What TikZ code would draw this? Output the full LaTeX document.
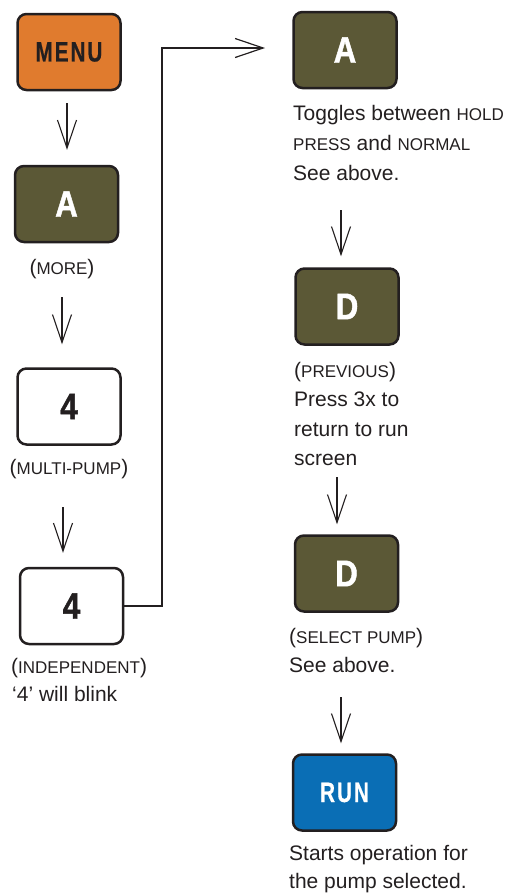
\documentclass[tikz,border=0pt]{standalone}
\usepackage{fontspec}
\setmainfont{Liberation Sans}
\newfontfamily\btnfont[FakeStretch=0.74,FakeBold=0.4,LetterSpace=7]{Liberation Sans Bold}
\newfontfamily\bigbtnfont[FakeStretch=0.85,FakeBold=1.2]{Liberation Sans Bold}
\usetikzlibrary{arrows.meta,calc}
\definecolor{ink}{HTML}{231F20}
\definecolor{keyorange}{HTML}{E07B2E}
\definecolor{keyolive}{HTML}{5B5836}
\definecolor{keyblue}{HTML}{0A6EB5}
\newcommand\smc[1]{{\fontsize{17pt}{17pt}\selectfont #1}}
\begin{document}
\begin{tikzpicture}[x=1pt,y=-1pt,
  key/.style={draw=ink,line width=2.5pt,rounded corners=9pt,minimum width=103pt,minimum height=76pt,inner sep=0pt},
  bigkey/.style={key,font=\bigbtnfont\fontsize{37pt}{37pt}\selectfont},
  smallkey/.style={key,font=\btnfont\fontsize{28pt}{28pt}\selectfont},
  olivekey/.style={bigkey,fill=keyolive,text=white},
  whitekey/.style={bigkey,fill=white,text=ink},
  txt/.style={anchor=base west,inner sep=0pt,text=ink,font=\fontsize{21pt}{21pt}\selectfont},
  ctxt/.style={txt,anchor=base},
  arr/.style={draw=ink,line width=1.1pt,-{Straight Barb[length=28pt,width=19pt]}},
  conn/.style={draw=ink,line width=2pt,-{Straight Barb[length=28pt,width=19pt,line width=1.2pt]}}]
\useasboundingbox (0,0) rectangle (507,895);

% left column
\node[smallkey,fill=keyorange,text=ink] (menu) at (69,52) {MENU};
\node[olivekey] (a1) at (66.5,204) {A};
\node[ctxt] (more) at (62,274) {(\smc{MORE})};
\node[whitekey] (k1) at (69,406.5) {4};
\node[ctxt] (mp) at (69,474) {(\smc{MULTI-PUMP})};
\node[whitekey] (k2) at (71.5,606) {4};
\node[txt] (ind) at (11,673) {(\smc{INDEPENDENT})};
\node[txt] (blink) at (12,701) {‘4’ will blink};

% right column
\node[olivekey] (a2) at (345,50) {A};
\node[txt] (t1) at (293,120) {Toggles between \smc{HOLD}};
\node[txt] (t2) at (293,150) {\smc{PRESS} and \smc{NORMAL}};
\node[txt] (t3) at (293,180) {See above.};
\node[olivekey] (d1) at (347,306.5) {D};
\node[txt] (p1) at (294,377) {(\smc{PREVIOUS})};
\node[txt] (p2) at (294,406) {Press 3x to};
\node[txt] (p3) at (294,436) {return to run};
\node[txt] (p4) at (294,465) {screen};
\node[olivekey] (d2) at (346.5,573.5) {D};
\node[txt] (s1) at (289,643) {(\smc{SELECT PUMP})};
\node[txt] (s2) at (289,672) {See above.};
\node[smallkey,fill=keyblue,text=white] (run) at (344.5,792.5) {RUN};
\node[txt] (r1) at (289,860) {Starts operation for};
\node[txt] (r2) at (289,888) {the pump selected.};

% arrow end points
\coordinate (aS1) at ($(menu.south)+(-2,12)$);
\coordinate (aE1) at ($(aS1 |- a1.north)+(0,-15)$);
\coordinate (aS2) at ($(more.base)+(0,23)$);
\coordinate (aE2) at ($(aS2 |- k1.north)+(0,-23)$);
\coordinate (aS3) at ($(mp.base)+(-6,33)$);
\coordinate (aE3) at ($(aS3 |- k2.north)+(0,-14)$);
\coordinate (bend) at (162,48);
\coordinate (cE) at (265,48);
\coordinate (bS1) at ($(t3.base west)+(48,30)$);
\coordinate (bE1) at ($(bS1 |- d1.north)+(0,-11)$);
\coordinate (bS2) at ($(p4.base west)+(43,12)$);
\coordinate (bE2) at ($(bS2 |- d2.north)+(0,-10)$);
\coordinate (bS3) at ($(s2.base west)+(52,25)$);
\coordinate (bE3) at ($(bS3 |- run.north)+(0,-10)$);

\draw[arr] (aS1) -- (aE1);
\draw[arr] (aS2) -- (aE2);
\draw[arr] (aS3) -- (aE3);
\draw[conn] (k2.east) -| (bend) -- (cE);
\draw[arr] (bS1) -- (bE1);
\draw[arr] (bS2) -- (bE2);
\draw[arr] (bS3) -- (bE3);
\end{tikzpicture}
\end{document}
